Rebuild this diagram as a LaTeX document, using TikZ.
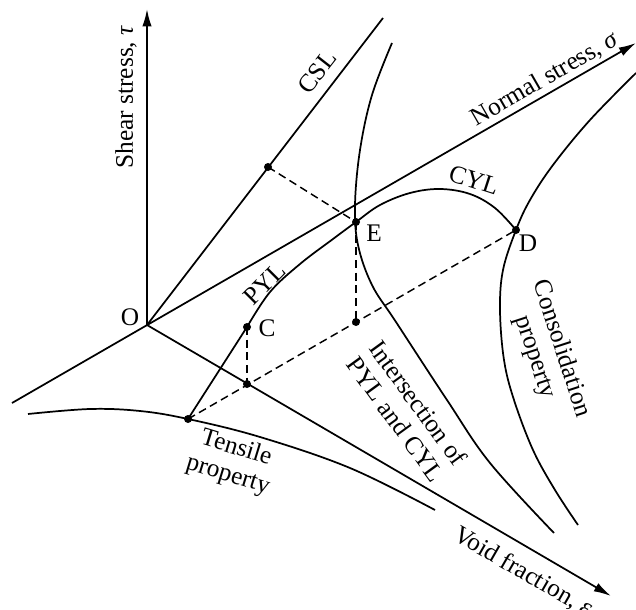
\documentclass[tikz,border=0pt]{standalone}
\usepackage{fontspec}
\setmainfont{Liberation Serif}
\usetikzlibrary{arrows.meta}
\begin{document}
\begin{tikzpicture}[x=0.75pt,y=-0.75pt,
  curve/.style={line width=1.3pt,line join=round},
  axis/.style={line width=1.3pt,-{Latex[length=13pt,width=7pt]}},
  dashline/.style={line width=1.1pt,dash pattern=on 6pt off 3.5pt},
  dot/.style={circle,fill,inner sep=0pt,minimum size=6pt},
  lbl/.style={font=\fontsize{19}{21}\selectfont,inner sep=0pt,align=center}]
\useasboundingbox (0,0) rectangle (636,610);
% axes
\coordinate (O) at (147,325);
\coordinate (tauTip) at (147,9);
\coordinate (sigStart) at (12,403);
\coordinate (sigTip) at (636,43);
\coordinate (epsTip) at (611,596);
\coordinate (cslEnd) at (383,18);
\draw[axis] (O) -- (tauTip);
\draw[axis] (sigStart) -- (sigTip);
\draw[axis] (O) -- (epsTip);
\draw[curve] (O) -- (cslEnd);
% points
\node[dot] (cslDot) at (268,167) {};
\node[dot] (E) at (356,222) {};
\node[dot] (Elow) at (356,322) {};
\node[dot] (D) at (516,230) {};
\node[dot] (C) at (247,327) {};
\node[dot] (Cv) at (247,384) {};
\node[dot] (T) at (188,419) {};
% dashed construction lines
\draw[dashline] (cslDot.center) -- (E.center);
\draw[dashline] (E.center) -- (Elow.center);
\draw[dashline] (C.center) -- (Cv.center);
\draw[dashline] (T.center) -- (D.center);
% intersection curve
\draw[curve] plot[smooth,tension=0.6] coordinates {(392,43) (372,95) (360,150) (355,205) (358,245) (372,285) (396,322) (447,400) (490,463) (554,533)};
% consolidation curve
\draw[curve] plot[smooth,tension=0.6] coordinates {(636,73) (590,120) (553,165) (530,200) (516,230) (503,270) (500,310) (504,360) (514,400) (533,450) (555,490) (578,525)};
% tensile curve
\draw[curve] plot[smooth,tension=0.6] coordinates {(28,414) (90,409) (140,411) (188,419) (260,437) (350,468) (435,510)};
% PYL / CYL curve
\draw[curve] (T.center) -- plot[smooth,tension=0.6] coordinates {(247,327) (270,292) (300,264) (333,239) (356,222) (380,205) (410,193) (440,189) (470,194) (495,208) (516,230)};
% labels
\node[lbl,rotate=90] (tauLbl) at (126,97) {Shear stress, \textit{τ}};
\node[lbl,rotate=52] (cslLbl) at (317,72) {CSL};
\node[lbl,rotate=30] (sigLbl) at (545,79) {Normal stress, \textit{σ}};
\node[lbl,rotate=-18] (cylLbl) at (474,180) {CYL};
\node[lbl,rotate=45] (pylLbl) at (265,284) {PYL};
\node[lbl] (oLbl) at (130,317) {O};
\node[lbl] (cLbl) at (267,328) {C};
\node[lbl] (eLbl) at (374,233) {E};
\node[lbl] (dLbl) at (528,243) {D};
\node[lbl,rotate=-54] (intLbl) at (407,411) {Intersection of\\PYL and CYL};
\node[lbl,rotate=-72] (conLbl) at (548,353) {Consolidation\\property};
\node[lbl,rotate=-17] (tenLbl) at (232,462) {Tensile\\property};
\node[lbl,rotate=-30] (epsLbl) at (523,572) {Void fraction, \textit{ε}};
\end{tikzpicture}
\end{document}
